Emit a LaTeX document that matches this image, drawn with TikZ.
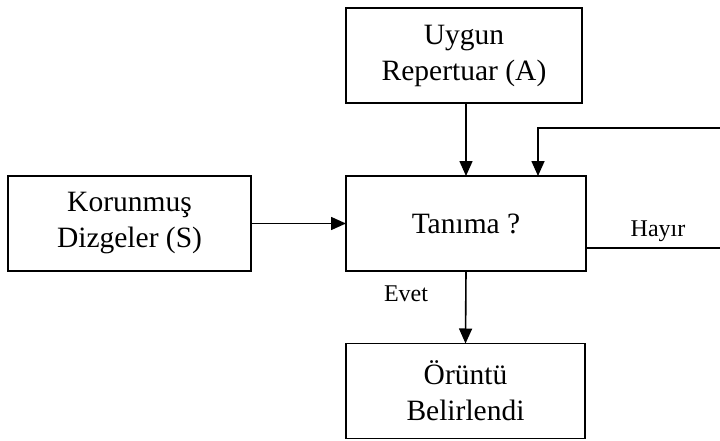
\documentclass[tikz,border=0pt]{standalone}
\usepackage{fontspec}
\setmainfont{Liberation Serif}
\usetikzlibrary{arrows.meta,calc}
\begin{document}
\begin{tikzpicture}[x=1pt,y=-1pt,
  blok/.style={draw,line width=1.8pt,minimum width=#1,minimum height=95pt,
    inner sep=0pt,outer sep=0pt,align=center,font=\fontsize{29.5}{36}\selectfont},
  ok/.style={line width=1.6pt,-{Triangle[length=15pt,width=13pt]}},
  etiket/.style={font=\fontsize{24}{26}\selectfont,inner sep=0pt}]
  \useasboundingbox (0,0) rectangle (720,441);
  \clip (0,0) rectangle (720,441);
  % blocks
  \node[blok=236pt] (rep) at (464,55.5) {Uygun\\Repertuar (A)};
  \node[blok=240pt] (tan) at (466,223.5) {Tanıma ?};
  \node[blok=243pt] (kor) at (129.5,223.5) {Korunmuş\\Dizgeler (S)};
  \node[blok=239pt] (oru) at (465.5,391) {Örüntü\\Belirlendi};
  % feedback loop corners, just outside the right edge
  \coordinate (geri1) at (730,248);
  \coordinate (geri2) at (730,128);
  \coordinate (giris) at ($(tan.north west)!0.8!(tan.north east)$);
  % connectors
  \draw[ok] (rep.south -| tan.south) -- (tan.north);
  \draw[ok] (kor.east) -- (kor.east -| tan.west);
  \draw[ok] (tan.south) -- node[etiket,left=37pt,pos=0.32] (evet) {Evet} (oru.north);
  \draw[ok] (tan.east |- geri1) -- node[etiket,above=6pt,pos=0.5] (hayir) {Hayır} (geri1)
    -- (geri2) -| (giris);
\end{tikzpicture}
\end{document}
